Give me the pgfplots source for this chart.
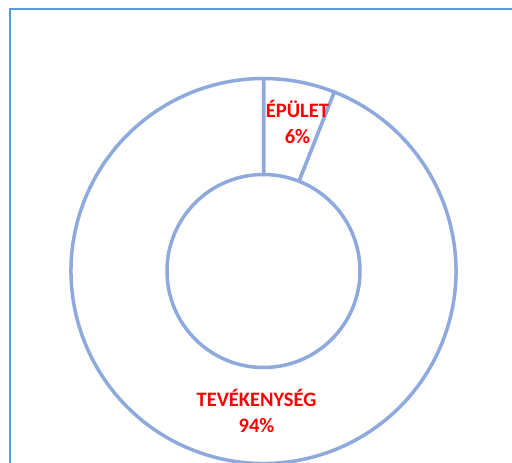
\documentclass[border=0pt]{standalone}
\usepackage{pgfplots}
\pgfplotsset{compat=1.18}
\usepackage{fontspec}
\setmainfont{Carlito}
\usetikzlibrary{calc}
\definecolor{ringc}{RGB}{142,169,219}
\definecolor{framec}{RGB}{91,155,213}
\begin{document}
\begin{tikzpicture}
% values (percent) of the two slices
\def\vA{6}   % ÉPÜLET
\def\vB{94}  % TEVÉKENYSÉG
\pgfmathsetmacro{\aStart}{90}
\pgfmathsetmacro{\aMid}{90-3.6*\vA}
\pgfmathsetmacro{\aEnd}{\aMid-3.6*\vB}
\def\Ro{192.5bp}
\def\Ri{96.5bp}
\begin{axis}[
  scale only axis, width=512bp, height=463bp,
  xmin=0, xmax=512, ymin=0, ymax=463,
  hide axis, clip=false,
]
\addplot[draw=framec, line width=2.2bp] coordinates {(10,0) (10,454) (512,454)};
\coordinate (C) at (axis cs:263.5,192);
\filldraw[fill=white, draw=ringc, line width=3.5bp, line join=round]
  ($(C)+(\aStart:\Ro)$) arc[start angle=\aStart, end angle=\aMid, radius=\Ro]
  -- ($(C)+(\aMid:\Ri)$) arc[start angle=\aMid, end angle=\aStart, radius=\Ri] -- cycle;
\filldraw[fill=white, draw=ringc, line width=3.5bp, line join=round]
  ($(C)+(\aMid:\Ro)$) arc[start angle=\aMid, end angle=\aEnd, radius=\Ro]
  -- ($(C)+(\aEnd:\Ri)$) arc[start angle=\aEnd, end angle=\aMid, radius=\Ri] -- cycle;
\node[text=red, font=\fontsize{20.5bp}{26bp}\selectfont\bfseries, align=center]
  at (axis cs:297.5,341) {ÉPÜLET\\6\%};
\node[text=red, font=\fontsize{20.5bp}{26bp}\selectfont\bfseries, align=center]
  at (axis cs:256.5,52) {TEVÉKENYSÉG\\94\%};
\end{axis}
\pgfresetboundingbox
\useasboundingbox (0,0) rectangle (512bp,463bp);
\end{tikzpicture}
\end{document}
